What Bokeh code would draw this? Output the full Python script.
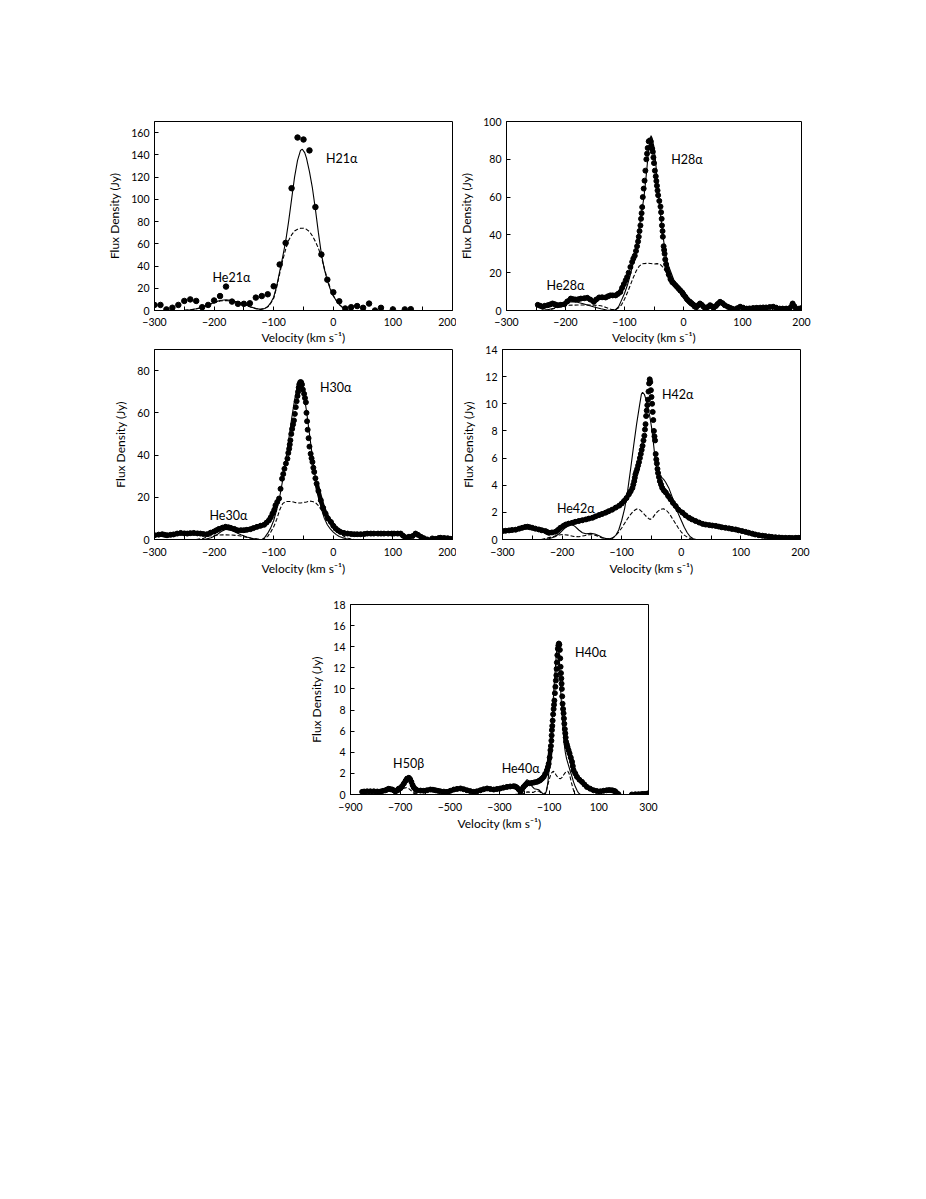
from bokeh.plotting import figure
from bokeh.layouts import column, row
from bokeh.models import Spacer, FixedTicker, Range1d, Label
from bokeh.embed import file_html
from bokeh.resources import INLINE
import numpy as np

FONT = "Lato"

# ---------------- Panel 1 : H21a ----------------
p1_obs = [(-300, 5), (-290, 5), (-280, 1), (-270, 2.5), (-260, 5), (-250, 8.6), (-240, 10), (-230, 8.6),
          (-220, 3), (-210, 5), (-200, 9), (-190, 13), (-180, 21.5), (-170, 8), (-160, 6), (-150, 6),
          (-140, 6.5), (-130, 11.6), (-120, 13), (-110, 14.6), (-100, 21.8), (-90, 41.4), (-80, 60.8),
          (-70, 110), (-60, 155.6), (-50, 153.8), (-40, 144), (-30, 93), (-20, 50.4), (-10, 27.7),
          (0, 16.4), (10, 8.3), (20, 1.8), (30, 3), (40, 4), (50, 2.4), (60, 6.2), (70, 0), (80, 2.4),
          (100, 1), (120, 1), (130, 1.2)]
p1_fit = [(-300, 0), (-260, 0), (-250, 0.2), (-240, 0.6), (-230, 1.5), (-220, 3), (-210, 5), (-200, 7.3),
          (-190, 9), (-180, 9.6), (-170, 9), (-160, 7.5), (-150, 5.5), (-140, 3.5), (-130, 1.8),
          (-122, 1.0), (-115, 1.8), (-110, 3.5), (-105, 7), (-100, 12), (-95, 22), (-90, 35), (-85, 48),
          (-80, 62), (-75, 80), (-70, 100), (-65, 120), (-60, 135), (-55, 144), (-52, 145), (-48, 142),
          (-45, 137), (-40, 125), (-35, 110), (-30, 91), (-25, 70), (-20, 51), (-15, 37), (-10, 27),
          (-5, 19), (0, 13), (5, 9), (10, 5.5), (15, 3), (20, 1.5), (25, 0.6), (30, 0.2), (40, 0)]
p1_comp = [(-250, 0.2), (-240, 0.5), (-230, 1.4), (-220, 2.8), (-210, 4.8), (-200, 7), (-190, 8.5),
           (-180, 9), (-170, 8.5), (-160, 7), (-150, 5.2), (-140, 3.3), (-130, 1.7), (-122, 1.0),
           (-115, 1.8), (-110, 3.3), (-105, 6.5), (-100, 11), (-95, 21), (-90, 33), (-85, 45), (-80, 55),
           (-75, 63), (-70, 68), (-65, 71.5), (-60, 73), (-55, 74), (-50, 74), (-45, 73), (-40, 71),
           (-35, 67), (-30, 62), (-25, 56), (-20, 48), (-15, 38), (-10, 28), (-5, 20), (0, 13.5),
           (5, 9), (10, 5.3), (15, 3), (20, 1.5), (25, 0.6), (30, 0.2), (40, 0)]

# ---------------- Panel 2 : H28a ----------------
p2_obs = [(-247, 3), (-243, 2.5), (-239, 2), (-235, 2.5), (-230, 2.8), (-226, 3.2), (-222, 3.7), (-218, 3.3),
          (-213, 2.8), (-208, 3.0), (-202, 3.3), (-197, 4.8), (-191, 6.3), (-187, 6.0), (-183, 5.8),
          (-178, 6.0), (-174, 6.3), (-168, 6.5), (-163, 6.7), (-158, 5.8), (-152, 4.6), (-148, 5.8),
          (-143, 6.9), (-138, 7.0), (-132, 6.9), (-128, 7.5), (-124, 8), (-120, 8), (-115, 8), (-111, 8.8),
          (-107, 9.8), (-104, 12), (-101, 14), (-98, 16), (-95.5, 17.7), (-93, 20), (-90, 23), (-87, 25.7),
          (-85, 27.5), (-82.6, 29), (-80.5, 31.5), (-78.7, 34), (-77, 36.5), (-75.8, 39), (-74.5, 42),
          (-73, 45), (-72, 48.5), (-71, 51.5), (-70, 54.7), (-69, 60), (-67.5, 64.5), (-66, 68.7),
          (-64.6, 74), (-63, 80), (-61.8, 83), (-60.7, 86), (-59, 89.5), (-57, 90), (-55.5, 89.5),
          (-54.5, 87), (-53, 85.5), (-52, 84), (-51, 81), (-50, 78), (-48.5, 74), (-47, 71), (-46, 68.5),
          (-45, 66), (-44, 63.5), (-43, 61), (-41, 58), (-39, 55), (-38, 52), (-37, 48.5), (-36.5, 45),
          (-35.5, 42), (-35, 39), (-33.7, 34), (-32.8, 32), (-32, 30), (-31, 27), (-29.5, 24.5), (-28, 22),
          (-25, 19), (-22, 16.5), (-19, 15), (-17, 14.5), (-14, 13.5), (-11, 12.5), (-8, 11.5), (-5, 10.5),
          (-2, 9.5), (0, 8.5), (3, 7.3), (6, 6), (9, 5), (11, 4.6), (14, 3.8), (17, 3), (20, 2.3), (22, 2),
          (25, 2.8), (28, 3.7), (31, 3), (34, 2), (37, 1), (41, 1.8), (45, 2.8), (48, 2.2), (51, 1.4),
          (55, 2.4), (58, 3.5), (62, 4.6), (66, 3.9), (70, 2.8), (75, 2), (79, 1.4), (83, 0.9), (87, 0.5),
          (91, 1.2), (96, 2), (101, 1.5), (107, 1), (112, 1.1), (118, 1.3), (124, 1.4), (130, 1.5),
          (135, 1.6), (140, 1.6), (146, 1.8), (152, 2), (157, 1.5), (163, 1), (168, 1), (174, 1),
          (180, 1.2), (185, 3.7), (188, 2.2), (191, 0.5), (195, 0.9), (199, 1.2), (202, 1.4)]
p2_fit = [(-275, 0), (-250, 0), (-240, 0.1), (-230, 0.4), (-220, 1.2), (-210, 2.5), (-200, 3.8), (-190, 4.6),
          (-180, 4.4), (-170, 3.6), (-160, 2.6), (-150, 1.7), (-140, 0.9), (-130, 0.3), (-120, 0.05),
          (-115, 0.5), (-110, 2), (-105, 5.5), (-100, 9), (-95, 13.5), (-90, 19), (-85, 25.5), (-80, 33),
          (-77, 40), (-72, 50), (-67, 60), (-63, 72), (-60, 82), (-57, 90), (-55, 92.5), (-53, 91),
          (-50, 86), (-47, 78), (-44, 66), (-42, 60), (-38, 48), (-35, 40), (-31, 31), (-27, 25), (-21, 20),
          (-15, 15), (-10, 11.5), (-5, 9), (0, 7), (5, 5), (10, 3.2), (15, 1.8), (20, 0.8), (25, 0.3),
          (30, 0), (40, 0)]
p2_comp = [(-275, 0), (-240, 0), (-225, 0.5), (-215, 1.5), (-205, 2.5), (-195, 2.8), (-180, 2.9),
           (-165, 2.9), (-150, 2.8), (-140, 2.5), (-130, 1.5), (-122, 0.5), (-115, 0.5), (-110, 1.5),
           (-105, 3), (-100, 6), (-95, 9.5), (-90, 13.5), (-85, 17.5), (-80, 21), (-75, 23.5), (-70, 24.7),
           (-60, 25), (-50, 24.6), (-45, 24.8), (-40, 24.5), (-35, 23), (-30, 20.5), (-25, 18), (-20, 15.5),
           (-15, 13), (-10, 10.5), (-5, 8.5), (0, 6.5), (5, 4.5), (10, 3), (15, 1.5), (20, 0.5), (25, 0)]

# ---------------- Panel 3 : H30a ----------------
p3_obs = [(-300, 2), (-293, 2.3), (-287, 2.5), (-283, 2.2), (-279, 2), (-273, 2.2), (-268, 2.4), (-262, 2.8),
          (-256, 3.1), (-250, 2.9), (-245, 2.8), (-240, 3.0), (-234, 3.1), (-228, 2.9), (-223, 2.8),
          (-218, 2.6), (-212, 2.5), (-206, 3.2), (-200, 3.8), (-196, 4.4), (-192, 5), (-186, 5.6),
          (-181, 6), (-176, 5.8), (-172, 5.5), (-166, 5), (-161, 4.4), (-155, 4.4), (-150, 4.4),
          (-145, 4.6), (-139, 4.9), (-134, 5.4), (-128, 6), (-122, 6.5), (-116, 7), (-112, 8), (-108, 9.1),
          (-105, 10.5), (-102, 12.3), (-99, 14), (-97, 16.2), (-94, 17.8), (-91, 19.4), (-88.5, 24),
          (-86, 28.8), (-84, 31), (-82, 33.5), (-79.5, 36), (-77, 38.3), (-75.5, 41), (-74, 43), (-73, 45),
          (-72, 47), (-70.5, 50), (-69, 52.4), (-67.5, 54.5), (-66, 56.4), (-64.5, 59.5), (-63, 62.7),
          (-61.5, 65.5), (-60, 68), (-59, 70), (-58, 72), (-57, 73.5), (-55.5, 74.5), (-54, 74.5),
          (-52.5, 73.4), (-51, 71), (-49, 69), (-47.5, 67), (-46, 65), (-45, 60), (-44, 56), (-43, 52),
          (-41.5, 48), (-40, 44), (-38, 40.6), (-36.5, 38.5), (-35, 36.7), (-33.5, 34), (-32, 32),
          (-30, 29), (-28, 26.5), (-25, 23), (-21, 18.6), (-17, 15), (-13, 12.3), (-9, 10), (-4, 8.3),
          (0, 6.5), (4, 5.2), (8, 4.3), (12, 3.6), (18, 3.1), (24, 2.8), (30, 2.6), (35, 2.5), (40, 2.5),
          (46, 2.5), (52, 2.6), (57, 2.8), (63, 2.8), (68, 2.8), (75, 2.8), (80, 2.8), (85, 2.8), (92, 2.8),
          (98, 2.8), (102, 2.8), (108, 2.8), (113, 2.8), (117, 1.8), (121, 1), (127, 1.3), (133, 1.6),
          (138, 2.8), (142, 2.2), (147, 1.3), (152, 0.6), (158, 0), (162, np.nan), (166, 0.5), (172, 0.3),
          (177, 0.7), (180, 0.8), (186, 0.7), (192, 0.6), (197, 0.3), (200, 0)]
p3_fit = [(-300, 0), (-230, 0), (-215, 0.1), (-205, 0.8), (-195, 2.3), (-188, 3.8), (-180, 4.8), (-172, 4.4),
          (-165, 3.5), (-155, 2.3), (-145, 1.2), (-135, 0.5), (-125, 0.1), (-119, 0), (-115, 1), (-110, 3),
          (-105, 5.5), (-100, 9), (-95, 14), (-90, 20), (-85, 28), (-80, 37), (-75, 47), (-70, 57),
          (-65, 66), (-60, 73), (-57, 75.5), (-54, 74.5), (-50, 70), (-45, 61), (-40, 50), (-35, 39),
          (-30, 29), (-25, 21), (-20, 14.5), (-15, 10), (-10, 7), (-5, 5), (0, 3.5), (5, 2.3), (10, 1.4),
          (15, 0.9), (20, 0.5), (26, 0), (40, 0)]
p3_comp = [(-230, 0), (-218, 0.5), (-210, 1.5), (-200, 2), (-185, 2.2), (-170, 2.1), (-158, 1.8),
           (-148, 1.2), (-138, 0.6), (-128, 0.2), (-120, 0), (-115, 0.5), (-110, 1.5), (-105, 3.5),
           (-100, 6), (-95, 9.5), (-90, 14), (-85, 17), (-80, 18), (-75, 18), (-70, 18), (-65, 17.6),
           (-60, 17.3), (-55, 17.3), (-50, 17.5), (-45, 17.8), (-40, 18.2), (-35, 18), (-30, 17.5),
           (-25, 16), (-20, 14), (-15, 12), (-10, 10), (-5, 8), (0, 6), (5, 4.3), (10, 3), (15, 2),
           (20, 1.2), (25, 0.6), (30, 0.2), (35, 0)]

# ---------------- Panel 4 : H42a ----------------
p4_obs = [(-300, 0.62), (-295, 0.64), (-289, 0.67), (-284, 0.7), (-278, 0.72), (-272, 0.8), (-267, 0.86),
          (-262, 0.92), (-258, 0.94), (-254, 0.9), (-250, 0.86), (-245, 0.8), (-239, 0.74), (-234, 0.68),
          (-228, 0.62), (-225, 0.55), (-222, 0.49), (-217, 0.52), (-211, 0.57), (-207, 0.7), (-203, 0.86),
          (-198, 1.0), (-194, 1.1), (-189, 1.17), (-183, 1.23), (-178, 1.3), (-172, 1.36), (-166, 1.42),
          (-160, 1.48), (-155, 1.54), (-149, 1.6), (-144, 1.7), (-138, 1.8), (-133, 1.88), (-127, 1.98),
          (-122, 2.08), (-116, 2.2), (-110, 2.35), (-104, 2.5), (-100, 2.65), (-96, 2.84), (-92, 3.05),
          (-88, 3.33), (-85, 3.55), (-82, 3.8), (-80.5, 4.05), (-79, 4.3), (-78, 4.55), (-77, 4.8),
          (-75.5, 5.0), (-74, 5.2), (-72.5, 5.45), (-71, 5.7), (-69.5, 6.0), (-68, 6.3), (-66.5, 6.6),
          (-65, 6.9), (-63.5, 7.3), (-62, 7.65), (-61, 8.1), (-60, 8.5), (-59, 9.1), (-58, 9.5), (-57, 9.9),
          (-56, 10.3), (-55, 10.9), (-54, 11.5), (-53, 11.8), (-52, 11.6), (-51, 11.0), (-50, 10.5),
          (-49, 10), (-48, 9.4), (-47, 8.8), (-46, 8.0), (-45, 7.6), (-44, 7.3), (-43, 6.3), (-42, 5.9),
          (-41, 5.6), (-40, 5.2), (-39, 4.9), (-37.5, 4.6), (-36, 4.3), (-34, 4.05), (-32, 3.8), (-29, 3.6),
          (-26, 3.46), (-22, 3.2), (-18, 2.96), (-14, 2.7), (-9.5, 2.47), (-5, 2.2), (2, 1.98), (7, 1.78),
          (13, 1.6), (18, 1.48), (24, 1.36), (30, 1.25), (36, 1.15), (41, 1.1), (47, 1.06), (52, 1.03),
          (58, 1.0), (63, 0.95), (68, 0.9), (74, 0.86), (80, 0.82), (85, 0.78), (91, 0.74), (96, 0.68),
          (102, 0.62), (108, 0.56), (113, 0.5), (119, 0.43), (124, 0.37), (130, 0.32), (136, 0.28),
          (141, 0.25), (147, 0.22), (152, 0.19), (158, 0.17), (164, 0.15), (169, 0.13), (175, 0.12),
          (181, 0.12), (186, 0.11), (192, 0.12), (197, 0.12), (200, 0.12)]
p4_fit = [(-300, 0), (-230, 0), (-222, 0.05), (-212, 0.2), (-203, 0.5), (-195, 0.85), (-188, 1.05),
          (-183, 1.1), (-178, 0.95), (-172, 0.7), (-166, 0.5), (-160, 0.42), (-152, 0.45), (-145, 0.4),
          (-138, 0.28), (-131, 0.12), (-125, 0.05), (-120, 0.05), (-115, 0.12), (-110, 0.3), (-105, 0.7),
          (-100, 1.4), (-95, 2.3), (-90, 3.6), (-85, 5.2), (-80, 6.9), (-75, 8.5), (-70, 9.9), (-67, 10.7),
          (-65, 10.85), (-62, 10.7), (-59, 10.3), (-56, 9.7), (-53, 9.1), (-50, 8.3), (-47, 7.2),
          (-44, 6.0), (-41, 5.1), (-38, 4.7), (-35, 4.55), (-32, 4.55), (-29, 4.4), (-26, 4.2), (-21, 3.8),
          (-15, 3.1), (-10, 2.5), (-5, 1.9), (0, 1.4), (5, 0.9), (10, 0.5), (15, 0.2), (20, 0.05),
          (25, 0), (60, 0)]
p4_comp = [(-235, 0), (-225, 0.1), (-215, 0.22), (-205, 0.33), (-198, 0.37), (-190, 0.32), (-180, 0.22),
           (-172, 0.2), (-163, 0.28), (-155, 0.35), (-148, 0.35), (-140, 0.25), (-133, 0.12), (-127, 0.05),
           (-120, 0.05), (-115, 0.1), (-110, 0.3), (-105, 0.55), (-100, 0.85), (-95, 1.2), (-90, 1.55),
           (-85, 1.85), (-80, 2.1), (-75, 2.25), (-70, 2.2), (-65, 2.0), (-60, 1.75), (-55, 1.55),
           (-52, 1.48), (-48, 1.6), (-44, 1.85), (-40, 2.05), (-35, 2.22), (-30, 2.27), (-25, 2.15),
           (-20, 1.9), (-15, 1.55), (-10, 1.2), (-5, 0.85), (0, 0.55), (5, 0.32), (10, 0.17), (15, 0.07),
           (20, 0)]

# ---------------- Panel 5 : H40a / H50b ----------------
p5_obs = [(-853, 0.25), (-845, 0.28), (-833, 0.3), (-820, 0.3), (-806, 0.3), (-792, 0.28), (-779, 0.28),
          (-769, 0.35), (-759, 0.4), (-752, 0.48), (-746, 0.54), (-739, 0.5), (-732, 0.47), (-725, 0.38),
          (-719, 0.3), (-712, 0.4), (-706, 0.55), (-699, 0.6), (-692, 0.8), (-685, 1.04), (-678, 1.3),
          (-672, 1.5), (-665, 1.58), (-660, 1.45), (-655, 1.2), (-650, 0.9), (-645, 0.66), (-638, 0.5),
          (-632, 0.4), (-618, 0.37), (-605, 0.35), (-592, 0.4), (-578, 0.47), (-568, 0.45), (-558, 0.4),
          (-548, 0.35), (-538, 0.3), (-524, 0.27), (-511, 0.25), (-498, 0.35), (-484, 0.47), (-471, 0.53),
          (-457, 0.57), (-444, 0.5), (-431, 0.4), (-418, 0.32), (-404, 0.25), (-391, 0.3), (-377, 0.4),
          (-364, 0.5), (-350, 0.57), (-337, 0.52), (-323, 0.47), (-310, 0.52), (-297, 0.57), (-284, 0.65),
          (-270, 0.72), (-257, 0.76), (-243, 0.79), (-236, 0.75), (-230, 0.66), (-223, 0.5), (-216, 0.3),
          (-210, 0.5), (-203, 0.72), (-196, 0.9), (-189, 1.04), (-179, 1.07), (-169, 1.1), (-159, 1.15),
          (-149, 1.2), (-142, 1.28), (-136, 1.36), (-129, 1.5), (-122, 1.67), (-116, 1.95), (-109, 2.3),
          (-105, 2.6), (-102, 2.9), (-98, 3.5), (-95, 4.2), (-93, 4.6), (-91, 5.1), (-90, 5.6), (-89, 6.1),
          (-87.5, 6.5), (-86, 7), (-84, 7.6), (-82, 8.1), (-80.5, 8.5), (-79, 8.9), (-77, 9.6), (-75, 10.2),
          (-73, 10.8), (-71, 11.3), (-70, 11.9), (-69, 12.5), (-67, 13.2), (-65, 13.8), (-63, 14.1),
          (-61, 14.3), (-59, 14.2), (-57, 13.7), (-55.5, 12.9), (-54, 12.1), (-52.5, 11.5), (-51, 11),
          (-50, 10.5), (-49, 10), (-47.5, 9.3), (-46, 8.6), (-44, 8.1), (-42, 7.7), (-40.5, 7.2), (-39, 6.7),
          (-37, 6.2), (-35, 5.8), (-33.5, 5.4), (-32, 5), (-29, 4.75), (-26, 4.5), (-22, 4.2), (-18, 3.9),
          (-13, 3.5), (-8, 3.1), (-5, 2.7), (-2, 2.3), (5, 2.0), (12, 1.67), (22, 1.4), (32, 1.2),
          (42, 0.95), (52, 0.72), (65, 0.55), (79, 0.4), (92, 0.33), (106, 0.3), (119, 0.35), (132, 0.4),
          (142, 0.42), (153, 0.4), (160, 0.35), (166, 0.3), (172, 0.15), (179, 0.03)]
p5_tail = [(233, 0), (247, 0.02), (260, 0.03), (273, 0.05), (280, 0.05), (287, 0.05), (295, 0.08), (300, 0.1)]
p5_fit = [(-850, 0), (-730, 0), (-715, 0.1), (-705, 0.4), (-695, 0.9), (-685, 1.4), (-677, 1.7), (-670, 1.65),
          (-662, 1.3), (-655, 0.85), (-647, 0.4), (-640, 0.15), (-630, 0.02), (-620, 0), (-240, 0),
          (-225, 0.05), (-215, 0.3), (-205, 0.8), (-195, 1.25), (-189, 1.4), (-183, 1.3), (-175, 1.0),
          (-168, 0.75), (-160, 0.55), (-150, 0.5), (-142, 0.45), (-135, 0.3), (-127, 0.12), (-121, 0.02),
          (-115, 0.1), (-110, 0.4), (-105, 1.2), (-100, 2.5), (-95, 4), (-90, 6), (-86, 8), (-82, 9.6),
          (-78, 11), (-75, 12), (-72, 13), (-69, 13.8), (-66, 14.2), (-63, 14), (-60, 13.2), (-58, 12),
          (-55, 10.5), (-52, 9.2), (-49, 8), (-46, 6.8), (-42, 5.5), (-38, 4.5), (-35, 4), (-30, 3.4),
          (-25, 3.0), (-20, 2.6), (-15, 2.2), (-8, 1.7), (-2, 1.2), (5, 0.75), (12, 0.4), (18, 0.15),
          (25, 0), (60, 0)]
p5_comp = [(-850, 0), (-730, 0), (-715, 0.05), (-705, 0.2), (-695, 0.45), (-685, 0.6), (-675, 0.65),
           (-665, 0.55), (-655, 0.35), (-645, 0.12), (-635, 0), (-215, 0), (-205, 0.1), (-195, 0.2),
           (-185, 0.25), (-175, 0.2), (-165, 0.2), (-155, 0.3), (-148, 0.35), (-140, 0.3), (-132, 0.15),
           (-125, 0.03), (-121, 0), (-115, 0.2), (-110, 0.5), (-105, 0.95), (-100, 1.4), (-95, 1.8),
           (-90, 2.05), (-84, 2.2), (-78, 2.1), (-72, 1.85), (-66, 1.65), (-60, 1.52), (-54, 1.5),
           (-48, 1.62), (-42, 1.85), (-36, 2.05), (-30, 2.18), (-25, 2.2), (-20, 2.0), (-15, 1.6),
           (-10, 1.1), (-5, 0.65), (0, 0.25), (6, 0), (40, 0)]

# line labels: (text, velocity, flux)
p1_labels = [("H21\u03b1", 14, 137), ("He21\u03b1", -171, 30)]
p2_labels = [("H28\u03b1", 6, 80), ("He28\u03b1", -200, 13)]
p3_labels = [("H30\u03b1", 4, 72), ("He30\u03b1", -176, 11.4)]
p4_labels = [("H42\u03b1", -6, 10.7), ("He42\u03b1", -177, 2.3)]
p5_labels = [("H40\u03b1", 67, 13.5), ("He40\u03b1", -215, 2.5), ("H50\u03b2", -666, 2.9)]

X_TITLE = "Velocity (km s\u207b\u00b9)"
Y_TITLE = "Flux Density (Jy)"


def unzip(pairs):
    a = np.array(pairs, dtype=float)
    return a[:, 0], a[:, 1]


def make_panel(xr, yr, xticks, xminor, yticks, bl, br, bt, bb, xstand=(8, 2)):
    p = figure(width=bl + 298 + br, height=bt + 190 + bb,
               x_range=Range1d(*xr), y_range=Range1d(*yr),
               output_backend="svg", toolbar_location=None,
               min_border_left=bl, min_border_right=br,
               min_border_top=bt, min_border_bottom=bb)
    p.xgrid.visible = False
    p.ygrid.visible = False
    p.outline_line_color = "black"
    p.outline_line_width = 1
    p.outline_line_alpha = 1
    p.background_fill_color = "white"
    p.border_fill_color = None
    p.xaxis.ticker = FixedTicker(ticks=xticks, minor_ticks=xminor)
    p.yaxis.ticker = FixedTicker(ticks=yticks)
    for ax in (p.xaxis[0], p.yaxis[0]):
        ax.axis_line_color = "black"
        ax.major_tick_in = 4
        ax.major_tick_out = 0
        ax.minor_tick_in = 4
        ax.minor_tick_out = 0
        ax.major_tick_line_color = "black"
        ax.minor_tick_line_color = "black"
        ax.major_label_text_font = FONT
        ax.major_label_text_font_size = "10.5px"
        ax.major_label_text_color = "black"
        ax.axis_label_text_font = FONT
        ax.axis_label_text_font_size = "12px"
        ax.axis_label_text_font_style = "normal"
        ax.axis_label_text_color = "black"
    p.yaxis[0].minor_tick_in = 0
    p.xaxis[0].axis_label = X_TITLE
    p.yaxis[0].axis_label = Y_TITLE
    p.xaxis[0].major_label_standoff = xstand[0]
    p.xaxis[0].axis_label_standoff = xstand[1]
    p.yaxis[0].major_label_standoff = 5
    p.yaxis[0].axis_label_standoff = 6
    return p


def draw_fit(p, fit, comp):
    v, f = unzip(fit)
    p.line(v, f, line_color="black", line_width=1.1)
    v, f = unzip(comp)
    p.line(v, f, line_color="black", line_width=1.1, line_dash="4 2")


def draw_obs(p, obs, core):
    v, f = unzip(obs)
    left = v <= core[0]
    right = v >= core[1]
    p.line(v[left], f[left], line_color="black", line_width=4.5, line_join="round")
    p.line(v[right], f[right], line_color="black", line_width=4.5, line_join="round")
    ok = ~np.isnan(f)
    p.scatter(v[ok], f[ok], marker="circle", size=5, fill_color="black", line_color="black")


def add_labels(p, labels):
    for t, x, y in labels:
        p.add_layout(Label(x=x, y=y, text=t, text_align="center", text_baseline="middle",
                           text_font=FONT, text_font_size="12.5px", text_color="black"))


xt = [-300, -200, -100, 0, 100, 200]
xm = [-250, -150, -50, 50, 150]

p1 = make_panel((-300, 200), (0, 170), xt, xm, list(range(0, 161, 20)), 50, 4, 10, 37, xstand=(7, 1))
v1, f1 = unzip(p1_obs)
draw_fit(p1, p1_fit, p1_comp)
p1.scatter(v1, f1, marker="circle", size=5.5, fill_color="black", line_color="black")
add_labels(p1, p1_labels)

p2 = make_panel((-300, 200), (0, 100), xt, xm, list(range(0, 101, 20)), 47, 10, 11, 37, xstand=(7, 1))
p2.height = 11 + 189 + 37
draw_fit(p2, p2_fit, p2_comp)
draw_obs(p2, p2_obs, (-101, -28))
add_labels(p2, p2_labels)

p3 = make_panel((-300, 200), (0, 90), xt, xm, list(range(0, 81, 20)), 50, 4, 7, 45)
draw_fit(p3, p3_fit, p3_comp)
draw_obs(p3, p3_obs, (-97, -28))
add_labels(p3, p3_labels)

p4 = make_panel((-300, 200), (0, 14), xt, xm, list(range(0, 15, 2)), 46, 10, 7, 45)
p4.height = 7 + 189 + 46
draw_fit(p4, p4_fit, p4_comp)
draw_obs(p4, p4_obs, (-82, -36))
add_labels(p4, p4_labels)

p5 = make_panel((-900, 300), (0, 18), list(range(-900, 301, 200)), list(range(-800, 201, 200)),
                list(range(0, 19, 2)), 47, 10, 20, 45)
draw_fit(p5, p5_fit, p5_comp)
draw_obs(p5, p5_obs, (-95, -32))
vt, ft = unzip(p5_tail)
p5.scatter(vt, ft, marker="circle", size=5, fill_color="black", line_color="black")
add_labels(p5, p5_labels)

layout = column(
    Spacer(height=110, width=10),
    row(Spacer(width=104, height=10), p1, p2),
    row(Spacer(width=104, height=10), p3, p4, margin=(-5, 0, 0, 0)),
    row(Spacer(width=303, height=10), p5),
)

open("out.html", "w").write(file_html(layout, INLINE))
